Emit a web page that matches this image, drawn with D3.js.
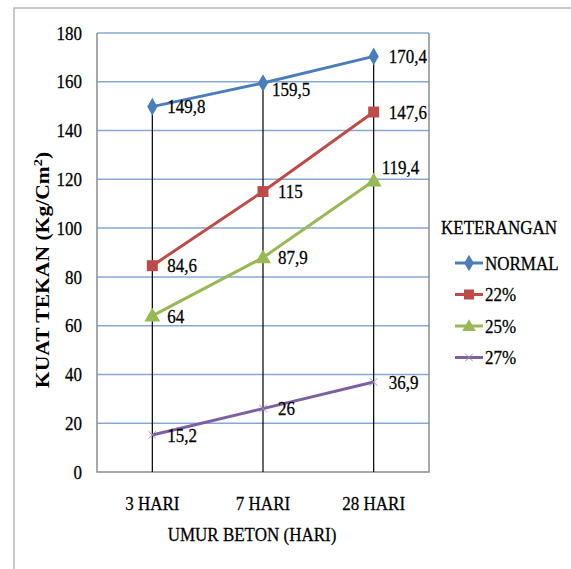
<!DOCTYPE html>
<html>
<head>
<meta charset="utf-8">
<script src="https://cdn.jsdelivr.net/npm/d3@7/dist/d3.min.js"></script>
<style>
  body { margin: 0; background: #fff; }
  text { font-family: "Liberation Serif", "Times New Roman", serif; fill: #000; stroke: #000; stroke-width: 0.25px; }
</style>
</head>
<body>
<svg id="chart" width="571" height="569"></svg>
<script>
// data
var categories = ["3 HARI", "7 HARI", "28 HARI"];
var seriesNames = ["NORMAL", "22%", "25%", "27%"];
var normal = [149.8, 159.5, 170.4];
var p22 = [84.6, 115, 147.6];
var p25 = [64, 87.9, 119.4];
var p27 = [15.2, 26, 36.9];
var yTicks = [0, 20, 40, 60, 80, 100, 120, 140, 160, 180];

var colors = ["#4a7ebb", "#be4b48", "#98b954", "#7d60a0"];
var shapes = [d3.symbolDiamond, d3.symbolSquare, d3.symbolTriangle, d3.symbolCross];
var series = [normal, p22, p25, p27];

var svg = d3.select("#chart");
var stretch = 1.13;  // text in the picture is a bit taller than wide

function addText(px, py, str, size, anchor) {
    return svg.append("text")
        .attr("transform", "translate(" + px + "," + py + ") scale(1," + stretch + ")")
        .attr("text-anchor", anchor || "start")
        .style("font-size", size + "px")
        .text(str);
}

// outer chart border
svg.append("rect")
    .attr("x", 14).attr("y", 8)
    .attr("width", 600).attr("height", 600)
    .attr("fill", "none")
    .attr("stroke", "#b8b8b8")
    .attr("stroke-width", 1.5);

var pLeft = 97, pTop = 33, pRight = 429, pBottom = 472;

var x = d3.scaleBand()
    .domain(categories)
    .range([pLeft, pRight]);
var y = d3.scaleLinear()
    .domain([0, 180])
    .range([pBottom, pTop]);

// gridlines
svg.append("g").selectAll("line")
    .data(yTicks.slice(1))
    .enter().append("line")
        .attr("x1", pLeft).attr("x2", pRight)
        .attr("y1", function (d) { return y(d); })
        .attr("y2", function (d) { return y(d); })
        .attr("stroke", "#86a8d6")
        .attr("stroke-width", 1.5);

// plot border (left, bottom, right)
svg.append("path")
    .attr("d", "M" + pLeft + "," + pTop + "V" + pBottom + "H" + pRight + "V" + pTop)
    .attr("fill", "none")
    .attr("stroke", "#8c8c8c")
    .attr("stroke-width", 1.5);

// y axis labels
var yAxis = d3.axisLeft(y).tickValues(yTicks).tickSize(0).tickPadding(15);
var gy = svg.append("g")
    .attr("transform", "translate(" + pLeft + ",0)")
    .call(yAxis);
gy.select(".domain").remove();
gy.selectAll("text")
    .attr("transform", "scale(1," + stretch + ")")
    .style("font-family", "Liberation Serif")
    .style("font-size", "17px")
    .attr("fill", "#000");

// x axis labels
var xAxis = d3.axisBottom(x).tickSize(0).tickPadding(22);
var gx = svg.append("g")
    .attr("transform", "translate(0," + pBottom + ")")
    .call(xAxis);
gx.select(".domain").remove();
gx.selectAll("text")
    .attr("transform", "scale(1," + stretch + ")")
    .style("font-family", "Liberation Serif")
    .style("font-size", "17px")
    .attr("fill", "#000");

// drop lines
svg.append("g").selectAll("line")
    .data(categories)
    .enter().append("line")
        .attr("x1", function (d) { return x(d) + x.bandwidth() / 2; })
        .attr("x2", function (d) { return x(d) + x.bandwidth() / 2; })
        .attr("y1", function (d, i) { return y(d3.max(series, function (s) { return s[i]; })); })
        .attr("y2", pBottom)
        .attr("stroke", "#000")
        .attr("stroke-width", 1.2);

var cx = function (i) { return x(categories[i]) + x.bandwidth() / 2; };
var line = d3.line()
    .x(function (d, i) { return cx(i); })
    .y(function (d) { return y(d); });

// lines + markers
series.forEach(function (s, k) {
    svg.append("path")
        .attr("d", line(s))
        .attr("fill", "none")
        .attr("stroke", colors[k])
        .attr("stroke-width", 3);
    var sym = d3.symbol().type(shapes[k]).size(k == 1 ? 120 : (k == 0 ? 90 : 110));
    s.forEach(function (v, i) {
        var m = svg.append("path")
            .attr("d", sym())
            .attr("fill", colors[k]);
        if (k == 3) {
            m.attr("transform", "translate(" + cx(i) + "," + y(v) + ") rotate(45) scale(0.6)")
             .attr("fill", "none").attr("stroke", "#9d88bd").attr("stroke-width", 1.5)
             .attr("d", "M-9,0H9M0,-9V9");
        } else {
            m.attr("transform", "translate(" + cx(i) + "," + (y(v) + (k == 2 ? 1 : 0)) + ")");
        }
    });
});

// data labels
var labelShift = { "159.5": [9, 6], "119.4": [8, -14] };
series.forEach(function (s, k) {
    s.forEach(function (v, i) {
        var off = labelShift[v] || [15, 0];
        addText(cx(i) + off[0], y(v) + off[1], String(v).replace(".", ","), 17)
            .attr("dy", "0.35em");
    });
});

// axis titles
addText(252, 541, "UMUR BETON (HARI)", 17, "middle");

var yt = svg.append("text")
    .attr("transform", "translate(49,270) scale(1,1.2) rotate(-90)")
    .attr("text-anchor", "middle")
    .style("font-size", "18px")
    .style("font-weight", "bold")
    .style("stroke", "none");
yt.append("tspan").text("KUAT TEKAN (Kg/Cm");
yt.append("tspan").attr("dy", -7).style("font-size", "12px").text("2");
yt.append("tspan").attr("dy", 7).text(")");

// legend
addText(441, 234, "KETERANGAN", 17);

var leg = svg.append("g").selectAll("g")
    .data(seriesNames)
    .enter().append("g")
        .attr("transform", function (d, i) { return "translate(455," + (263 + i * 31.5) + ")"; });
leg.append("line")
    .attr("x1", 0).attr("x2", 28)
    .attr("stroke", function (d, i) { return colors[i]; })
    .attr("stroke-width", 3);
leg.each(function (d, k) {
    var g = d3.select(this);
    if (k == 3) {
        g.append("path").attr("d", "M-9,0H9M0,-9V9")
            .attr("transform", "translate(14,0) rotate(45) scale(0.6)")
            .attr("fill", "none").attr("stroke", "#9d88bd").attr("stroke-width", 1.5);
    } else {
        g.append("path")
            .attr("d", d3.symbol().type(shapes[k]).size(k == 1 ? 100 : 80)())
            .attr("transform", "translate(14," + (k == 2 ? 1 : 0) + ")")
            .attr("fill", colors[k]);
    }
});
leg.append("text")
    .attr("transform", "translate(30,0) scale(1," + stretch + ")")
    .attr("dy", "0.35em")
    .style("font-size", "17px")
    .text(function (d) { return d; });
</script>
</body>
</html>
